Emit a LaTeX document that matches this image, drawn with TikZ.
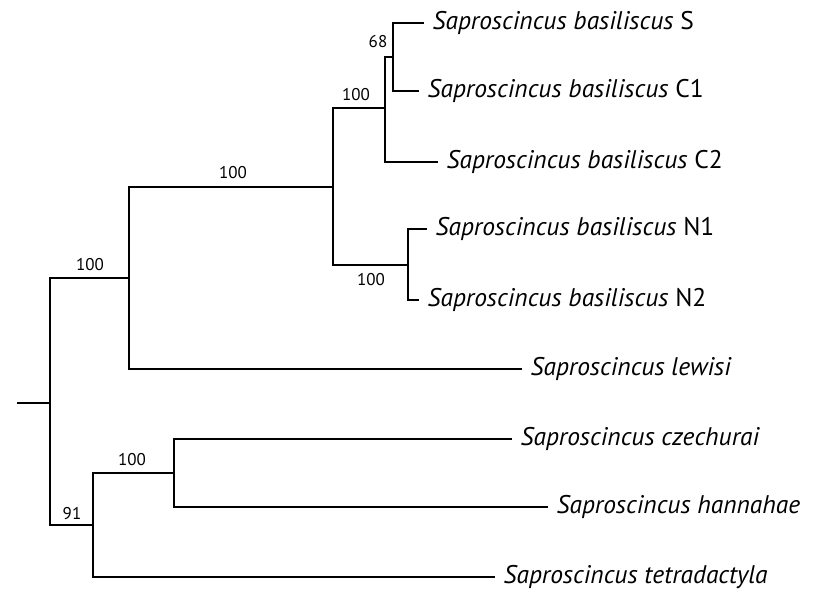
\documentclass[tikz,border=0pt]{standalone}
\usepackage{fontspec}
\setmainfont{PT Sans}
\begin{document}
\begin{tikzpicture}[x=1pt,y=-1pt,
  br/.style={line width=2.7pt,line join=miter},
  leaf/.style={anchor=west,inner xsep=8.5pt,inner ysep=0pt,font=\fontsize{25.5}{30}\selectfont},
  supp/.style={inner sep=0pt,font=\fontsize{17}{20}\selectfont}]
\useasboundingbox (0,0) rectangle (838,591);
% internal nodes
\coordinate (r0) at (17,403);
\coordinate (root) at (50,403);
\coordinate (n1) at (129,278);
\coordinate (n2) at (333,187);
\coordinate (n3) at (385,108);
\coordinate (n4) at (393,57);
\coordinate (n5) at (408,265);
\coordinate (m1) at (93,525);
\coordinate (m2) at (174,473);
% leaves
\node[leaf] (S) at (424,23) {\textit{Saproscincus basiliscus} S};
\node[leaf] (C1) at (419,91) {\textit{Saproscincus basiliscus} C1};
\node[leaf] (C2) at (438,162) {\textit{Saproscincus basiliscus} C2};
\node[leaf] (N1) at (427,229) {\textit{Saproscincus basiliscus} N1};
\node[leaf] (N2) at (419,300) {\textit{Saproscincus basiliscus} N2};
\node[leaf] (lew) at (522,369) {\textit{Saproscincus lewisi}};
\node[leaf] (cze) at (512,439) {\textit{Saproscincus czechurai}};
\node[leaf] (han) at (548,507) {\textit{Saproscincus hannahae}};
\node[leaf] (tet) at (495,577) {\textit{Saproscincus tetradactyla}};
% branches
\draw[br] (r0) -- (root);
\draw[br] (root) |- (n1);
\draw[br] (root) |- (m1);
\draw[br] (n1) |- (n2);
\draw[br] (n1) |- (lew.west);
\draw[br] (n2) |- (n3);
\draw[br] (n2) |- (n5);
\draw[br] (n3) |- (n4);
\draw[br] (n3) |- (C2.west);
\draw[br] (n4) |- (S.west);
\draw[br] (n4) |- (C1.west);
\draw[br] (n5) |- (N1.west);
\draw[br] (n5) |- (N2.west);
\draw[br] (m1) |- (m2);
\draw[br] (m1) |- (tet.west);
\draw[br] (m2) |- (cze.west);
\draw[br] (m2) |- (han.west);
% support values
\node[supp] (s1) at (90,265) {100};
\node[supp] (s2) at (233,173) {100};
\node[supp] (s3) at (356,95) {100};
\node[supp] (s4) at (378,42) {68};
\node[supp] (s5) at (371,280) {100};
\node[supp] (s6) at (132,460) {100};
\node[supp] (s7) at (72,514) {91};
\end{tikzpicture}
\end{document}
